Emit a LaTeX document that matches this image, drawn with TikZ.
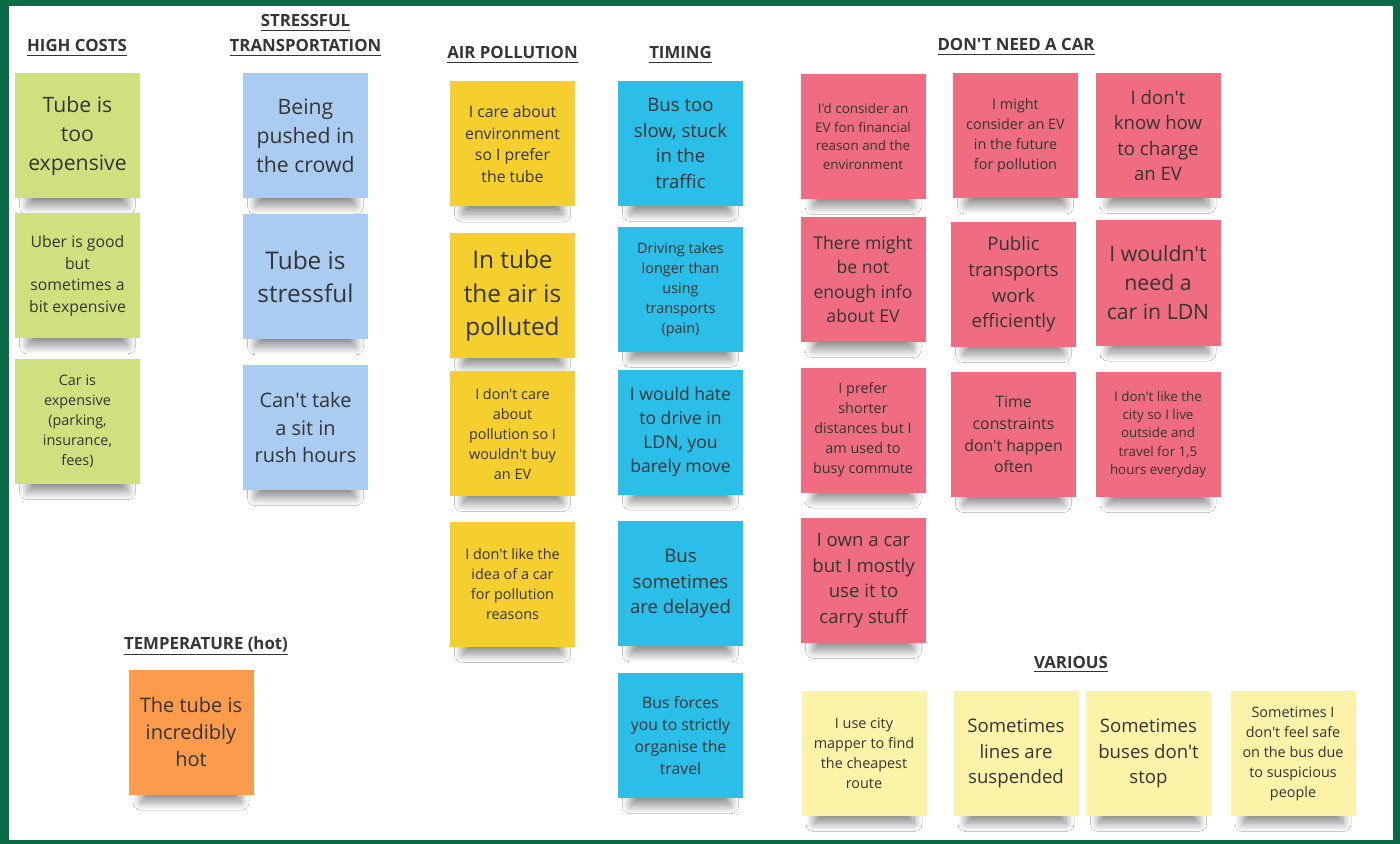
\documentclass[tikz,border=0pt]{standalone}
\usepackage{fontspec}
\setmainfont{Open Sans}[Ligatures=TeXOff]
\usepackage{xcolor}
\definecolor{frame}{HTML}{0A6B47}
\definecolor{inkdark}{HTML}{353535}
\definecolor{lime}{HTML}{CFE17E}
\definecolor{skyblue}{HTML}{A9CCF0}
\definecolor{gold}{HTML}{F5CF2E}
\definecolor{busblue}{HTML}{2ABEE8}
\definecolor{rosered}{HTML}{EF6C81}
\definecolor{paleyellow}{HTML}{FBF3A8}
\definecolor{hotorange}{HTML}{FB9B4B}
\usetikzlibrary{positioning,shadows.blur}

\begin{document}
\begin{tikzpicture}[x=0.5pt, y=-0.5pt,
    note/.style={minimum width=62.5pt, minimum height=62.5pt, inner sep=1pt,
                 align=center, text=inkdark,
                 blur shadow={shadow xshift=0pt, shadow yshift=-12.5pt,
                              shadow scale=0.8, shadow opacity=45,
                              shadow blur radius=5pt, shadow blur steps=20}},
    costnote/.style={note, fill=lime},
    stressnote/.style={note, fill=skyblue},
    airnote/.style={note, fill=gold},
    timenote/.style={note, fill=busblue},
    carnote/.style={note, fill=rosered},
    variousnote/.style={note, fill=paleyellow},
    hotnote/.style={note, fill=hotorange},
    head/.style={font=\fontsize{8.4}{12.5}\selectfont\bfseries, text=inkdark,
                 anchor=base, inner sep=0pt},
    txtxs/.style={font=\fontsize{6.7}{9.2}\selectfont},
    txts/.style={font=\fontsize{7.2}{10}\selectfont},
    txtsm/.style={font=\fontsize{7.9}{10.9}\selectfont},
    txtm/.style={font=\fontsize{8.8}{12.1}\selectfont},
    txtml/.style={font=\fontsize{9.3}{12.8}\selectfont},
    txtl/.style={font=\fontsize{10}{13.6}\selectfont},
    txtxl/.style={font=\fontsize{10.6}{14.5}\selectfont},
    txtxxl/.style={font=\fontsize{12.2}{16.7}\selectfont}]

  % board
  \fill[frame] (0,0) rectangle (1400,844);
  \fill[white] (9,6) rectangle (1393,840);

  % high costs
  \node[head] (hcost) at (77,52) {\underline{HIGH COSTS}};
  \node[costnote, txtxl] (cost1) at (77.5,136) {Tube is\\too\\expensive};
  \node[costnote, txtsm, below=7pt of cost1] (cost2) {Uber is good\\but\\sometimes a\\bit expensive};
  \node[costnote, txts, below=10pt of cost2] (cost3) {Car is\\expensive\\(parking,\\insurance,\\fees)};

  % stressful transportation
  \node[head] (hstress) at (305.5,27) {\underline{STRESSFUL}};
  \node[head] (htransp) at (305.5,52) {\underline{TRANSPORTATION}};
  \node[stressnote, txtxl] (stress1) at (305.5,136) {Being\\pushed in\\the crowd};
  \node[stressnote, txtxxl, below=7.5pt of stress1] (stress2) {Tube is\\stressful};
  \node[stressnote, txtl, below=12.5pt of stress2] (stress3) {Can't take\\a sit in\\rush hours};

  % air pollution
  \node[head] (hair) at (512.5,59) {\underline{AIR POLLUTION}};
  \node[airnote, txtsm] (air1) at (512.5,144) {I care about\\environment\\so I prefer\\the tube};
  \node[airnote, txtxxl, below=13pt of air1] (air2) {In tube\\the air is\\polluted};
  \node[airnote, txts, below=6pt of air2] (air3) {I don't care\\about\\pollution so I\\wouldn't buy\\an EV};
  \node[airnote, txts, below=12.5pt of air3] (air4) {I don't like the\\idea of a car\\for pollution\\reasons};

  % timing
  \node[head] (htime) at (680.5,59) {\underline{TIMING}};
  \node[timenote, txtml] (time1) at (680.5,143.5) {Bus too\\slow, stuck\\in the\\traffic};
  \node[timenote, txts, below=10pt of time1] (time2) {Driving takes\\longer than\\using\\transports\\(pain)};
  \node[timenote, txtm, below=8.5pt of time2] (time3) {I would hate\\to drive in\\LDN, you\\barely move};
  \node[timenote, txtml, below=13pt of time3] (time4) {Bus\\sometimes\\are delayed};
  \node[timenote, txtsm, below=13pt of time4] (time5) {Bus forces\\you to strictly\\organise the\\travel};

  % don't need a car
  \node[head] (hcar) at (1016,51) {\underline{DON'T NEED A CAR}};
  \node[carnote, txtxs] (car1) at (863,136.5) {I'd consider an\\EV fon financial\\reason and the\\environment};
  \node[carnote, txts] (car2) at (1015.5,136) {I might\\consider an EV\\in the future\\for pollution};
  \node[carnote, txtml] (car3) at (1158,135.5) {I don't\\know how\\to charge\\an EV};
  \node[carnote, txtm] (car4) at (863,279.5) {There might\\be not\\enough info\\about EV};
  \node[carnote, txtml] (car5) at (1013.5,284.5) {Public\\transports\\work\\efficiently};
  \node[carnote, txtxl] (car6) at (1158,283) {I wouldn't\\need a\\car in LDN};
  \node[carnote, txts] (car7) at (863,430) {I prefer\\shorter\\distances but I\\am used to\\busy commute};
  \node[carnote, txtsm] (car8) at (1013.5,434.5) {Time\\constraints\\don't happen\\often};
  \node[carnote, txtxs] (car9) at (1158,434.5) {I don't like the\\city so I live\\outside and\\travel for 1,5\\hours everyday};
  \node[carnote, txtml] (car10) at (863.5,580.5) {I own a car\\but I mostly\\use it to\\carry stuff};

  % various
  \node[head] (hvarious) at (1071,668) {\underline{VARIOUS}};
  \node[variousnote, txts] (various1) at (864,753.5) {I use city\\mapper to find\\the cheapest\\route};
  \node[variousnote, txtml] (various2) at (1016,753.5) {Sometimes\\lines are\\suspended};
  \node[variousnote, txtml] (various3) at (1148.5,753.5) {Sometimes\\buses don't\\stop};
  \node[variousnote, txts] (various4) at (1293,753.5) {Sometimes I\\don't feel safe\\on the bus due\\to suspicious\\people};

  % temperature
  \node[head] (hhot) at (206,649) {\underline{TEMPERATURE (hot)}};
  \node[hotnote, txtl] (hot1) at (191,732) {The tube is\\incredibly\\hot};
\end{tikzpicture}
\end{document}
